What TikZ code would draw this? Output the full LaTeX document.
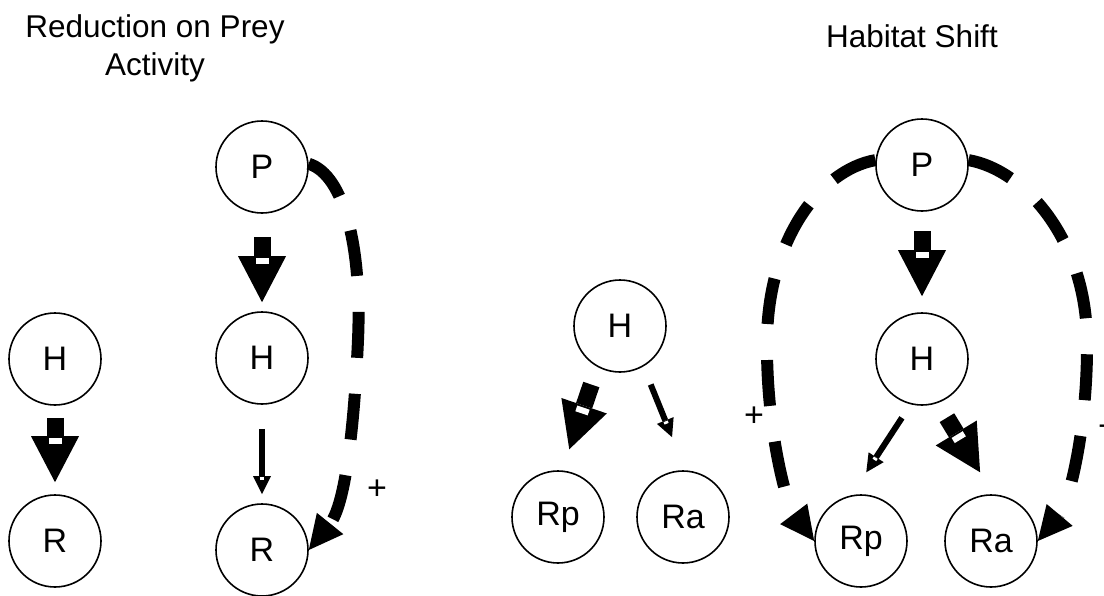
\documentclass[tikz,border=0pt]{standalone}
\usepackage{fontspec}
\setmainfont{Liberation Sans}
\usetikzlibrary{arrows.meta,decorations.markings}
\begin{document}
\begin{tikzpicture}[x=1pt,y=-1pt,
  state/.style={circle, draw, line width=1.6pt, minimum size=92pt, inner sep=0pt, font=\fontsize{34}{40}\selectfont},
  title/.style={font=\fontsize{31.5}{38}\selectfont, align=center, inner sep=0pt},
  sign/.style={font=\fontsize{34}{40}\selectfont, inner sep=0pt},
  fat/.style n args={3}{line width=17pt, shorten <=#1, shorten >=#2,
    -{Triangle[length=46pt,width=48pt,line width=0pt]},
    postaction={decorate, decoration={markings, mark=at position #3 with {\fill[white] (-3pt,-6.5pt) rectangle (3pt,6.5pt);}}}},
  slim/.style n args={3}{line width=6pt, shorten <=#1, shorten >=#2,
    -{Triangle[length=18pt,width=18pt,line width=0pt]},
    postaction={decorate, decoration={markings, mark=at position #3 with {\fill[white] (-1.3pt,-2.2pt) rectangle (1.3pt,2.2pt);}}}},
  dcurve/.style={line width=12pt, dash pattern=on 46pt off 36pt,
    -{Triangle[length=34pt,width=34pt,line width=0pt]}}
]
\useasboundingbox (0,0) rectangle (1104,595);

% titles
\node[title, anchor=base] (t1) at (155,75) {Reduction on Prey\\Activity};
\node[title, anchor=base] (t2) at (912,47) {Habitat Shift};

% nodes
\node[state] (H1) at (55,359) {H};
\node[state] (R1) at (55,541) {R};
\node[state] (P2) at (262,167) {P};
\node[state] (H2) at (262,358) {H};
\node[state] (R2) at (262,550) {R};
\node[state] (H3) at (620,326) {H};
\node[state] (Rp3) at (558,517) {Rp};
\node[state] (Ra3) at (683,517) {Ra};
\node[state] (P4) at (922,165) {P};
\node[state] (H4) at (922,359) {H};
\node[state] (Rp4) at (861,541) {Rp};
\node[state] (Ra4) at (991,541) {Ra};

% signs
\node[sign] (s1) at (377,490) {+};
\node[sign] (s2) at (754,417) {+};
\node[sign] (s3) at (1108,431) {−};

% fat arrows
\draw[fat={12pt}{12pt}{-53pt}] (H1) -- (R1);
\draw[fat={23pt}{9pt}{-50pt}] (P2) -- (H2);
\draw[fat={18.6pt}{22.3pt}{-63.3pt}] (H3.241) -- (Rp3.85);
\draw[fat={19pt}{16pt}{-57pt}] (P4) -- (H4);
\draw[fat={17.2pt}{25.7pt}{-66.7pt}] (H4.290) -- (Ra4.87);

% slim arrows
\draw[slim={24pt}{9pt}{-25pt}] (H2) -- (R2);
\draw[slim={19.4pt}{35.7pt}{-51.5pt}] (H3.300) -- (Ra3.87);
\draw[slim={16pt}{27.4pt}{-43.5pt}] (H4.256) -- (Rp4.102);

% dashed curved arrows
\draw[dcurve] (P2.4) .. controls (345,175) and (362,250) .. (358,340) .. controls (354,430) and (345,505) .. (R2.east);
\draw[dcurve] (P4.174) .. controls (820,170) and (768,240) .. (767,340) .. controls (766,430) and (787,505) .. (Rp4.west);
\draw[dcurve] (P4.6) .. controls (1025,170) and (1086,240) .. (1087,340) .. controls (1088,430) and (1068,505) .. (Ra4.east);
\end{tikzpicture}
\end{document}
